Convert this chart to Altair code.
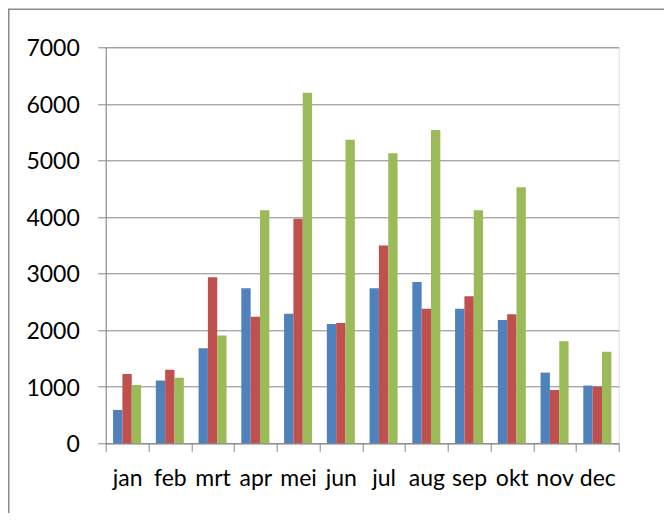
import altair as alt
import pandas as pd

months = ["jan", "feb", "mrt", "apr", "mei", "jun", "jul", "aug", "sep", "okt", "nov", "dec"]
series_names = ["Reeks1", "Reeks2", "Reeks3"]
reeks1 = [590, 1110, 1680, 2740, 2290, 2110, 2740, 2850, 2380, 2180, 1250, 1020]
reeks2 = [1225, 1300, 2935, 2235, 3970, 2125, 3495, 2380, 2600, 2280, 940, 1005]
reeks3 = [1030, 1160, 1905, 4120, 6195, 5365, 5125, 5540, 4120, 4525, 1805, 1620]
colors = ["#4F81BD", "#C0504D", "#9BBB59"]
y_ticks = [0, 1000, 2000, 3000, 4000, 5000, 6000, 7000]

rows = []
for name, vals in zip(series_names, [reeks1, reeks2, reeks3]):
    for m, v in zip(months, vals):
        rows.append({"maand": m, "reeks": name, "waarde": v})
df = pd.DataFrame(rows)

FONT = "Lato"
GRAY = "#868686"

bars = alt.Chart(df).mark_bar().encode(
    x=alt.X("maand:N", sort=months, title=None,
            scale=alt.Scale(paddingInner=0, paddingOuter=0),
            axis=alt.Axis(labelAngle=0, tickBand="extent", tickSize=8, tickColor=GRAY,
                          domainColor=GRAY, domainWidth=1, tickWidth=1,
                          labelFont=FONT, labelFontSize=23, labelColor="#000000",
                          labelBaseline="alphabetic", labelPadding=33.7)),
    xOffset=alt.XOffset("reeks:N", sort=series_names,
                        scale=alt.Scale(paddingInner=0, paddingOuter=0.79)),
    y=alt.Y("waarde:Q", title=None,
            scale=alt.Scale(domain=[0, 7000], nice=False),
            axis=alt.Axis(values=y_ticks, format="d", grid=True, gridColor=GRAY, gridWidth=1,
                          tickSize=8, tickColor=GRAY, domainColor=GRAY, domainWidth=1,
                          labelFont=FONT, labelFontSize=23, labelColor="#000000",
                          labelBaseline="alphabetic", labelOffset=8.4, labelPadding=18.4)),
    color=alt.Color("reeks:N", sort=series_names,
                    scale=alt.Scale(domain=series_names, range=colors), legend=None),
)

frame = alt.Chart(pd.DataFrame({"a": [0]})).mark_rect(
    fill=None, stroke="#8a8a8a", strokeWidth=1.5
).encode(
    x=alt.value(-96.95), x2=alt.value(700),
    y=alt.value(-38.0), y2=alt.value(700),
)

chart = alt.layer(frame, bars).properties(
    width=513, height=396,
    autosize=alt.AutoSizeParams(type="none"),
    padding={"left": 97.7, "top": 39.3, "right": 45.3, "bottom": 69.7},
).configure_view(stroke=None).configure(background="white")

chart.save("out.html", embed_options={"renderer": "svg", "actions": False})
